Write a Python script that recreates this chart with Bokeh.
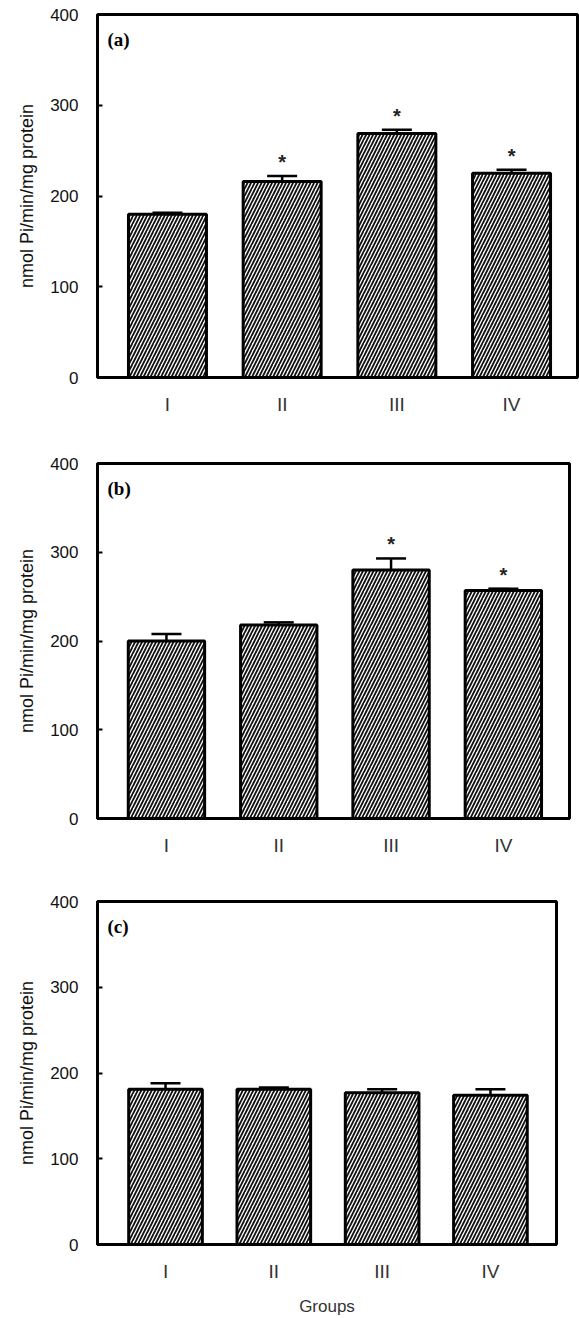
from bokeh.plotting import figure
from bokeh.models import ColumnDataSource, Whisker, TeeHead, Label, Range1d, FixedTicker
from bokeh.core.properties import value
from bokeh.embed import file_html
from bokeh.resources import INLINE

groups = ["I", "II", "III", "IV"]
group_pos = [1, 2, 3, 4]
y_ticks = [0, 100, 200, 300, 400]
y_label = "nmol Pi/min/mg protein"
x_label = "Groups"

a_mean = [180, 216, 269, 225]
a_err = [1.5, 6, 4, 4]
a_star = [False, True, True, True]

b_mean = [200, 218, 280, 257]
b_err = [8, 3, 13, 2]
b_star = [False, False, True, True]

c_mean = [181, 181, 177, 174]
c_err = [7, 2, 4, 7]
c_star = [False, False, False, False]


def panel(letter, means, errs, stars, height, b_top, b_bottom, b_right,
          x_start, x_end, show_xlabel=False):
    p = figure(width=579, height=height,
               x_range=Range1d(x_start, x_end), y_range=Range1d(0, 400),
               output_backend="svg", toolbar_location=None,
               min_border_left=97, min_border_right=b_right,
               min_border_top=b_top, min_border_bottom=b_bottom)
    p.grid.visible = False
    p.outline_line_color = "black"
    p.outline_line_width = 3
    p.outline_line_alpha = 1.0

    src = ColumnDataSource(dict(
        x=group_pos, mean=means,
        upper=[m + e for m, e in zip(means, errs)],
        lower=[m - e for m, e in zip(means, errs)],
    ))
    p.vbar(x="x", top="mean", width=0.68, source=src,
           fill_color="white", line_color="black", line_width=3,
           hatch_pattern="/", hatch_color="#111111", hatch_scale=7,
           hatch_weight=1.8)
    w = Whisker(source=src, base="x", upper="upper", lower="lower",
                line_color="black", line_width=2.5,
                upper_head=TeeHead(size=30, line_width=2.5, line_color="black"),
                lower_head=TeeHead(size=30, line_width=2.5, line_color="black"))
    p.add_layout(w)

    sx = [x for x, s in zip(group_pos, stars) if s]
    sy = [m + e for m, e, s in zip(means, errs, stars) if s]
    if sx:
        p.text(x=sx, y=sy, text=["*"] * len(sx), text_align="center",
               text_baseline="middle", y_offset=-14,
               text_font=value("Liberation Sans"), text_font_size="20px",
               text_font_style="bold", text_color="#222222")

    p.add_layout(Label(x=x_start, y=400, x_offset=10, y_offset=-14,
                       text="(" + letter + ")", text_baseline="top",
                       text_align="left", text_font="Liberation Serif",
                       text_font_style="bold", text_font_size="19px",
                       text_color="black"))

    # y axis
    p.yaxis.ticker = FixedTicker(ticks=y_ticks)
    p.yaxis.major_tick_in = 5
    p.yaxis.major_tick_out = 0
    p.yaxis.minor_tick_line_color = None
    p.yaxis.major_tick_line_width = 2
    p.yaxis.axis_line_width = 3
    p.yaxis.major_label_standoff = 19
    p.yaxis.major_label_text_font = "Liberation Sans"
    p.yaxis.major_label_text_font_size = "17px"
    p.yaxis.major_label_text_color = "#111111"
    p.yaxis.axis_label = y_label
    p.yaxis.axis_label_standoff = 10
    p.yaxis.axis_label_text_font = "Liberation Sans"
    p.yaxis.axis_label_text_font_size = "18px"
    p.yaxis.axis_label_text_font_style = "normal"
    p.yaxis.axis_label_text_color = "#111111"

    # x axis
    p.xaxis.ticker = FixedTicker(ticks=group_pos)
    p.xaxis.major_label_overrides = {pos: g for pos, g in zip(group_pos, groups)}
    p.xaxis.major_tick_in = 0
    p.xaxis.major_tick_out = 0
    p.xaxis.minor_tick_line_color = None
    p.xaxis.axis_line_width = 3
    p.xaxis.major_label_standoff = 16
    p.xaxis.major_label_text_font = "Liberation Sans"
    p.xaxis.major_label_text_font_size = "19px"
    p.xaxis.major_label_text_color = "#333333"
    if show_xlabel:
        p.xaxis.axis_label = x_label
        p.xaxis.axis_label_standoff = 12
        p.xaxis.axis_label_text_font = "Liberation Sans"
        p.xaxis.axis_label_text_font_size = "17px"
        p.xaxis.axis_label_text_font_style = "normal"
        p.xaxis.axis_label_text_color = "#333333"
    return p


pa = panel("a", a_mean, a_err, a_star, 430, 14, 53, 2, 0.39, 4.575)
pb = panel("b", b_mean, b_err, b_star, 440, 33, 52, 10, 0.386, 4.589)
pc = panel("c", c_mean, c_err, c_star, 448, 31, 73, 23, 0.372, 4.61,
           show_xlabel=True)

open("out.html", "w").write(file_html([pa, pb, pc], INLINE))
